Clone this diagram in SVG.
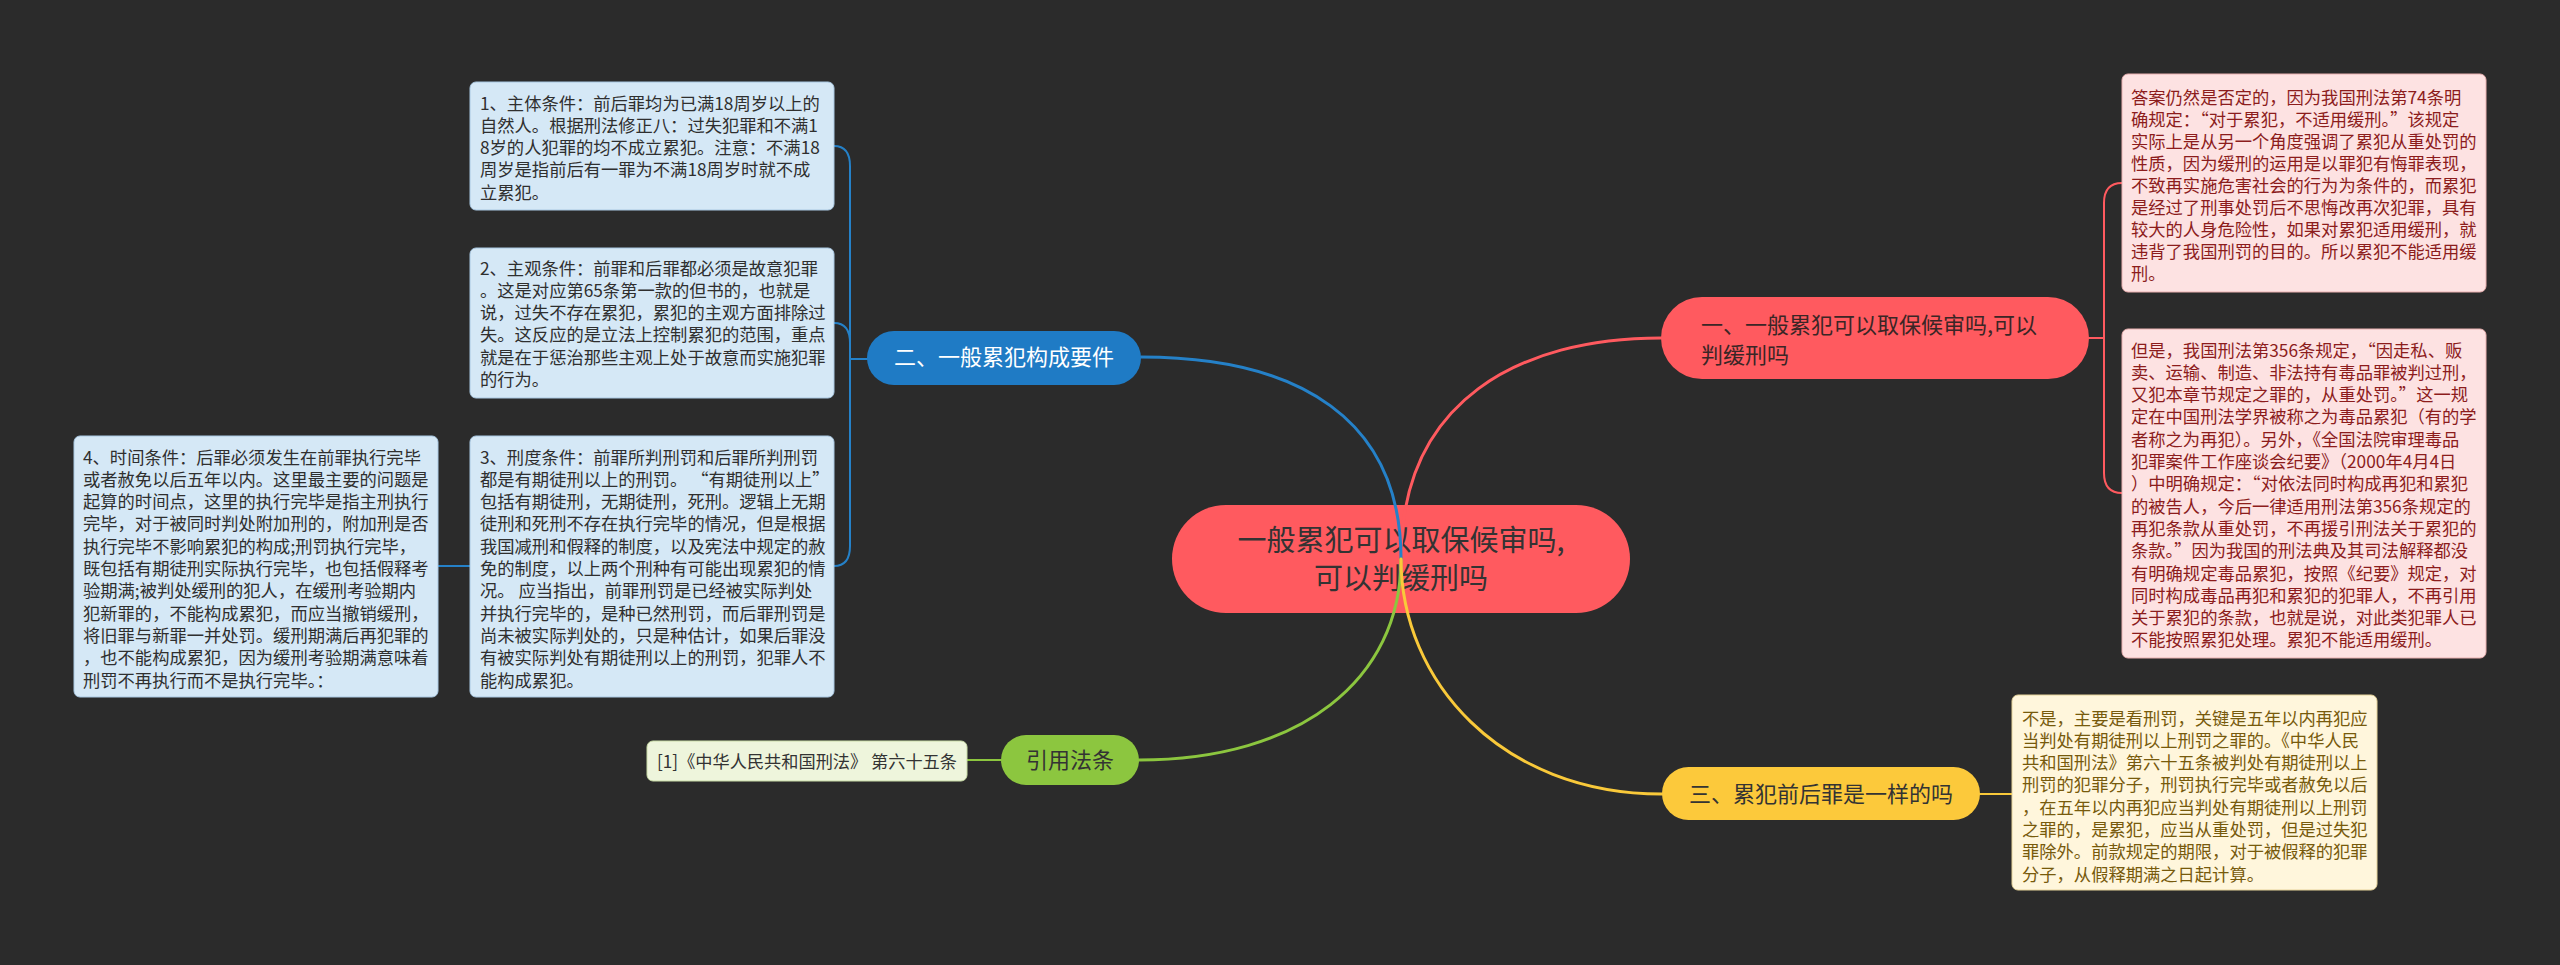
<svg xmlns="http://www.w3.org/2000/svg" width="2560" height="965" viewBox="0 0 2560 965" xml:lang="zh-CN" lang="zh-CN">
<style>
text{font-family:"Noto Sans CJK SC","Noto Sans",sans-serif}
.bx{font-size:17.3px}
.q{font-feature-settings:"fwid" 1}
.blue-box{fill:#d5e8f6;stroke:#a9c8e2;stroke-width:1}
.blue-t{fill:#2f2f2f}
.red-box{fill:#fde2e2;stroke:#e9b0b0;stroke-width:1}
.red-t{fill:#8c1c1c}
.yel-box{fill:#fff6dc;stroke:#e6d39a;stroke-width:1}
.yel-t{fill:#775a0c}
.grn-box{fill:#eef5dc;stroke:#c9dca7;stroke-width:1}
.grn-t{fill:#333}
.c{fill:none;stroke-linecap:round}
.cr{stroke:#ff5a5f}
.cb{stroke:#2581c8}
.cg{stroke:#8cc63f}
.cy{stroke:#f9c93a}
.main{stroke-width:3}
.sub{stroke-width:2}
</style>
<rect width="2560" height="965" fill="#2b2b2b"/>

<g id="central">
<rect x="1172" y="505" width="458" height="108" rx="54" fill="#ff5a5f"/>
<text x="1401" y="551" font-size="29" text-anchor="middle" fill="#333">一般累犯可以取保候审吗,</text>
<text x="1401" y="589" font-size="29" text-anchor="middle" fill="#333">可以判缓刑吗</text>
</g>

<g id="connectors">
<path class="c cr main" d="M1661 338 C1520 338 1401 400 1401 559"/>
<path class="c cb main" d="M1141 357 C1300 357 1401 420 1401 559"/>
<path class="c cg main" d="M1139 760 C1300 760 1401 680 1401 559"/>
<path class="c cy main" d="M1662 794 C1500 794 1401 680 1401 559"/>
<path class="c cb sub" d="M867 359 H850 V166 Q850 146 834 146"/>
<path class="c cb sub" d="M867 359 H850 V343 Q850 323 834 323"/>
<path class="c cb sub" d="M867 359 H850 V546 Q850 566 834 566"/>
<path class="c cb sub" d="M470 566 H438"/>
<path class="c cr sub" d="M2089 338 H2104 V203 Q2104 183 2122 183"/>
<path class="c cr sub" d="M2089 338 H2104 V473 Q2104 493 2122 493"/>
<path class="c cg sub" d="M1001 760 H967"/>
<path class="c cy sub" d="M1980 794 H2012"/>
</g>

<g id="branch1">
<rect x="1661" y="297" width="428" height="82" rx="41" fill="#ff5a5f"/>
<text x="1701" y="333.4" font-size="22" fill="#3a2626">一、一般累犯可以取保候审吗,可以</text>
<text x="1701" y="363.4" font-size="22" fill="#3a2626">判缓刑吗</text>
</g>

<g id="branch2">
<rect x="867" y="331" width="274" height="54" rx="27" fill="#1f7bc5"/>
<text x="1004" y="365.4" font-size="22" text-anchor="middle" fill="#ffffff">二、一般累犯构成要件</text>
</g>

<g id="branch3">
<rect x="1662" y="767" width="318" height="53" rx="26.5" fill="#fcc93b"/>
<text x="1821" y="802.4" font-size="22" text-anchor="middle" fill="#333">三、累犯前后罪是一样的吗</text>
</g>

<g id="branch4">
<rect x="1001" y="735" width="138" height="50" rx="25" fill="#8cc63f"/>
<text x="1070" y="768.4" font-size="22" text-anchor="middle" fill="#333">引用法条</text>
</g>

<g id="cite">
<rect class="grn-box" x="647" y="741" width="320" height="40" rx="6"/>
<text class="grn-t" x="657" y="767.5" font-size="17.3" textLength="300" lengthAdjust="spacingAndGlyphs">[1]《中华人民共和国刑法》 第六十五条</text>
</g>

<g id="box1">
<rect class="blue-box" x="470" y="82" width="364" height="128" rx="6"/>
<text class="bx blue-t" x="480" y="109.5">
<tspan x="480">1、主体条件：前后罪均为已满18周岁以上的</tspan>
<tspan x="480" dy="22.25">自然人。根据刑法修正八：过失犯罪和不满1</tspan>
<tspan x="480" dy="22.25">8岁的人犯罪的均不成立累犯。注意：不满18</tspan>
<tspan x="480" dy="22.25">周岁是指前后有一罪为不满18周岁时就不成</tspan>
<tspan x="480" dy="22.25">立累犯。</tspan>
</text>
</g>

<g id="box2">
<rect class="blue-box" x="470" y="248" width="364" height="150" rx="6"/>
<text class="bx blue-t" x="480" y="274.5">
<tspan x="480">2、主观条件：前罪和后罪都必须是故意犯罪</tspan>
<tspan x="480" dy="22.3">。这是对应第65条第一款的但书的，也就是</tspan>
<tspan x="480" dy="22.3">说，过失不存在累犯，累犯的主观方面排除过</tspan>
<tspan x="480" dy="22.3">失。这反应的是立法上控制累犯的范围，重点</tspan>
<tspan x="480" dy="22.3">就是在于惩治那些主观上处于故意而实施犯罪</tspan>
<tspan x="480" dy="22.3">的行为。</tspan>
</text>
</g>

<g id="box3">
<rect class="blue-box" x="470" y="436" width="364" height="261" rx="6"/>
<text class="bx blue-t" x="480" y="463.5">
<tspan x="480">3、刑度条件：前罪所判刑罚和后罪所判刑罚</tspan>
<tspan x="480" dy="22.3">都是有期徒刑以上的刑罚。 <tspan class="q">“</tspan>有期徒刑以上<tspan class="q">”</tspan></tspan>
<tspan x="480" dy="22.3">包括有期徒刑，无期徒刑，死刑。逻辑上无期</tspan>
<tspan x="480" dy="22.3">徒刑和死刑不存在执行完毕的情况，但是根据</tspan>
<tspan x="480" dy="22.3">我国减刑和假释的制度，以及宪法中规定的赦</tspan>
<tspan x="480" dy="22.3">免的制度，以上两个刑种有可能出现累犯的情</tspan>
<tspan x="480" dy="22.3">况。 应当指出，前罪刑罚是已经被实际判处</tspan>
<tspan x="480" dy="22.3">并执行完毕的，是种已然刑罚，而后罪刑罚是</tspan>
<tspan x="480" dy="22.3">尚未被实际判处的，只是种估计，如果后罪没</tspan>
<tspan x="480" dy="22.3">有被实际判处有期徒刑以上的刑罚，犯罪人不</tspan>
<tspan x="480" dy="22.3">能构成累犯。</tspan>
</text>
</g>

<g id="box4">
<rect class="blue-box" x="74" y="436" width="364" height="261" rx="6"/>
<text class="bx blue-t" x="83" y="463.5">
<tspan x="83">4、时间条件：后罪必须发生在前罪执行完毕</tspan>
<tspan x="83" dy="22.3">或者赦免以后五年以内。这里最主要的问题是</tspan>
<tspan x="83" dy="22.3">起算的时间点，这里的执行完毕是指主刑执行</tspan>
<tspan x="83" dy="22.3">完毕，对于被同时判处附加刑的，附加刑是否</tspan>
<tspan x="83" dy="22.3">执行完毕不影响累犯的构成;刑罚执行完毕，</tspan>
<tspan x="83" dy="22.3">既包括有期徒刑实际执行完毕，也包括假释考</tspan>
<tspan x="83" dy="22.3">验期满;被判处缓刑的犯人，在缓刑考验期内</tspan>
<tspan x="83" dy="22.3">犯新罪的，不能构成累犯，而应当撤销缓刑，</tspan>
<tspan x="83" dy="22.3">将旧罪与新罪一并处罚。缓刑期满后再犯罪的</tspan>
<tspan x="83" dy="22.3">，也不能构成累犯，因为缓刑考验期满意味着</tspan>
<tspan x="83" dy="22.3">刑罚不再执行而不是执行完毕。：</tspan>
</text>
</g>

<g id="boxR1">
<rect class="red-box" x="2122" y="74" width="364" height="218" rx="6"/>
<text class="bx red-t" x="2131" y="103.5">
<tspan x="2131">答案仍然是否定的，因为我国刑法第74条明</tspan>
<tspan x="2131" dy="22">确规定：<tspan class="q">“</tspan>对于累犯，不适用缓刑。<tspan class="q">”</tspan>该规定</tspan>
<tspan x="2131" dy="22">实际上是从另一个角度强调了累犯从重处罚的</tspan>
<tspan x="2131" dy="22">性质，因为缓刑的运用是以罪犯有悔罪表现，</tspan>
<tspan x="2131" dy="22">不致再实施危害社会的行为为条件的，而累犯</tspan>
<tspan x="2131" dy="22">是经过了刑事处罚后不思悔改再次犯罪，具有</tspan>
<tspan x="2131" dy="22">较大的人身危险性，如果对累犯适用缓刑，就</tspan>
<tspan x="2131" dy="22">违背了我国刑罚的目的。所以累犯不能适用缓</tspan>
<tspan x="2131" dy="22">刑。</tspan>
</text>
</g>

<g id="boxR2">
<rect class="red-box" x="2122" y="329" width="364" height="329" rx="6"/>
<text class="bx red-t" x="2131" y="356.5">
<tspan x="2131">但是，我国刑法第356条规定，<tspan class="q">“</tspan>因走私、贩</tspan>
<tspan x="2131" dy="22.3">卖、运输、制造、非法持有毒品罪被判过刑，</tspan>
<tspan x="2131" dy="22.3">又犯本章节规定之罪的，从重处罚。<tspan class="q">”</tspan>这一规</tspan>
<tspan x="2131" dy="22.3">定在中国刑法学界被称之为毒品累犯（有的学</tspan>
<tspan x="2131" dy="22.3">者称之为再犯）。另外，《全国法院审理毒品</tspan>
<tspan x="2131" dy="22.3">犯罪案件工作座谈会纪要》（2000年4月4日</tspan>
<tspan x="2131" dy="22.3">）中明确规定：<tspan class="q">“</tspan>对依法同时构成再犯和累犯</tspan>
<tspan x="2131" dy="22.3">的被告人，今后一律适用刑法第356条规定的</tspan>
<tspan x="2131" dy="22.3">再犯条款从重处罚，不再援引刑法关于累犯的</tspan>
<tspan x="2131" dy="22.3">条款。<tspan class="q">”</tspan>因为我国的刑法典及其司法解释都没</tspan>
<tspan x="2131" dy="22.3">有明确规定毒品累犯，按照《纪要》规定，对</tspan>
<tspan x="2131" dy="22.3">同时构成毒品再犯和累犯的犯罪人，不再引用</tspan>
<tspan x="2131" dy="22.3">关于累犯的条款，也就是说，对此类犯罪人已</tspan>
<tspan x="2131" dy="22.3">不能按照累犯处理。累犯不能适用缓刑。</tspan>
</text>
</g>

<g id="boxR3">
<rect class="yel-box" x="2012" y="695" width="365" height="195" rx="6"/>
<text class="bx yel-t" x="2022" y="724.5">
<tspan x="2022">不是，主要是看刑罚，关键是五年以内再犯应</tspan>
<tspan x="2022" dy="22.3">当判处有期徒刑以上刑罚之罪的。《中华人民</tspan>
<tspan x="2022" dy="22.3">共和国刑法》第六十五条被判处有期徒刑以上</tspan>
<tspan x="2022" dy="22.3">刑罚的犯罪分子，刑罚执行完毕或者赦免以后</tspan>
<tspan x="2022" dy="22.3">，在五年以内再犯应当判处有期徒刑以上刑罚</tspan>
<tspan x="2022" dy="22.3">之罪的，是累犯，应当从重处罚，但是过失犯</tspan>
<tspan x="2022" dy="22.3">罪除外。前款规定的期限，对于被假释的犯罪</tspan>
<tspan x="2022" dy="22.3">分子，从假释期满之日起计算。</tspan>
</text>
</g>
</svg>
